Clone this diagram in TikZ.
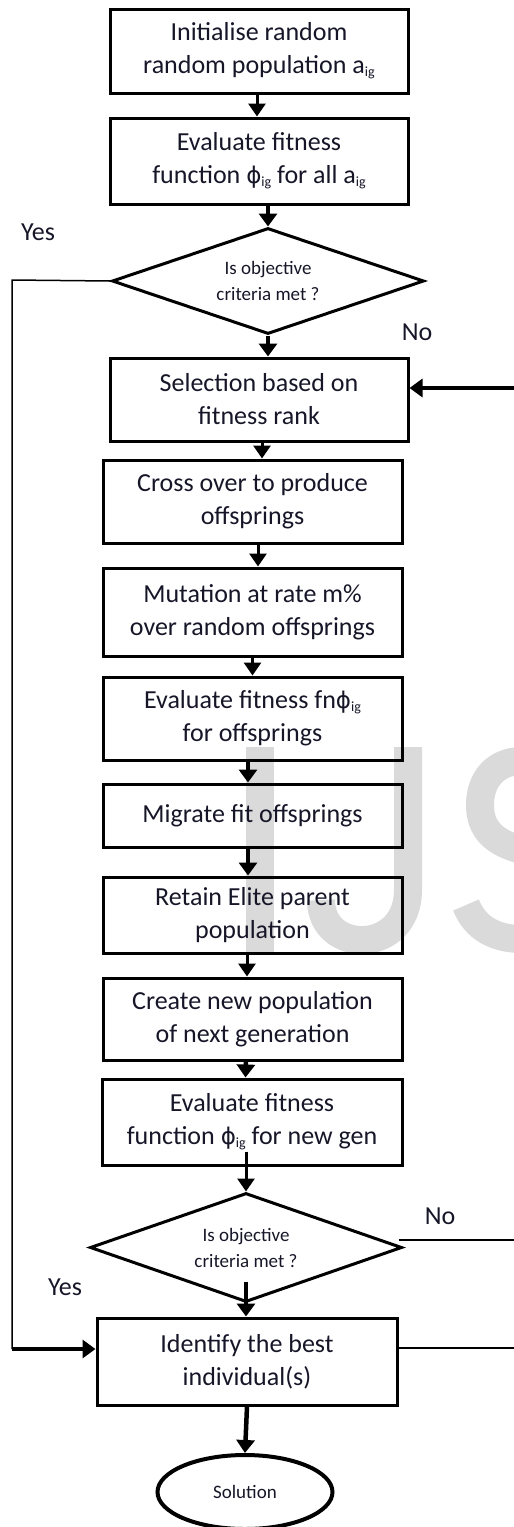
\documentclass[tikz,border=0pt]{standalone}
\usepackage{fontspec}
\setmainfont{Carlito}
\newfontfamily\phifont{DejaVu Sans}
\usetikzlibrary{shapes.geometric,arrows.meta}
\definecolor{wmgray}{RGB}{218,218,218}
\definecolor{txtcol}{RGB}{22,22,40}
\newcommand{\sbig}{\raisebox{-3pt}{\fontsize{14}{14}\selectfont ig}}
\newcommand{\phig}{{\phifont\fontsize{23}{26}\selectfont ϕ}\sbig}
\begin{document}
\begin{tikzpicture}[x=1pt,y=-1pt,
  box/.style={draw,line width=3pt,minimum width=298pt,inner sep=0pt,align=center,text=txtcol,font=\fontsize{26}{33}\selectfont},
  dec/.style={draw,diamond,line width=3pt,minimum width=312pt,minimum height=106pt,inner sep=0pt,aspect=2.94,align=center,text=txtcol,font=\fontsize{19}{26}\selectfont},
  arr/.style={line width=3pt,-{Triangle[length=13pt,width=17pt]}},
  thickarr/.style={line width=4.5pt,-{Triangle[length=13pt,width=18pt]}},
  thinline/.style={line width=1.5pt},
  lbl/.style={text=txtcol,font=\fontsize{26}{30}\selectfont},
  wm/.style={draw=wmgray,line width=28pt}
]
\useasboundingbox (0,0) rectangle (514,1527);
% watermark
\begin{scope}
\clip (0,0) rectangle (514,1527);
\fill[wmgray] (246,747) rectangle (274,953);
\draw[wm] (408,747) -- (408,890) .. controls (408,955) and (321,955) .. (321,900);
\draw[wm] (572,778) .. controls (560,760) and (540,761) .. (522,761)
  .. controls (495,761) and (480,780) .. (480,805)
  .. controls (480,830) and (495,843) .. (522,850)
  .. controls (555,858) and (574,875) .. (574,895)
  .. controls (574,922) and (552,939) .. (522,939)
  .. controls (495,939) and (475,928) .. (466,905);
\end{scope}
% nodes
\node[box,minimum height=84pt] (b1) at (259,51) {Initialise random\\random population a\sbig};
\node[box,minimum height=86pt] (b2) at (259,161) {Evaluate fitness\\function \phig{} for all a\sbig};
\node[dec] (d1) at (268,281) {Is objective\\criteria met ?};
\node[box,minimum height=83pt] (b3) at (259,399.5) {Selection based on\\fitness rank};
\node[box,minimum width=299pt,minimum height=83pt] (b4) at (252.5,501.5) {Cross over to produce\\offsprings};
\node[box,minimum width=299pt,minimum height=88pt] (b5) at (252.5,612) {Mutation at rate m\%\\over random offsprings};
\node[box,minimum width=299pt,minimum height=83pt] (b6) at (252.5,718.5) {Evaluate fitness fn\phig\\for offsprings};
\node[box,minimum width=299pt,minimum height=63pt] (b7) at (252.5,815.5) {Migrate fit offsprings};
\node[box,minimum width=299pt,minimum height=76pt] (b8) at (252.5,915) {Retain Elite parent\\population};
\node[box,minimum width=299pt,minimum height=82pt] (b9) at (252.5,1019) {Create new population\\of next generation};
\node[box,minimum width=300pt,minimum height=86pt] (b10) at (252,1122) {Evaluate fitness\\function \phig{} for new gen};
\node[dec,minimum height=109pt,aspect=2.86] (d2) at (246,1247.5) {Is objective\\criteria met ?};
\node[box,minimum width=300pt,minimum height=87pt] (b11) at (247,1361.5) {Identify the best\\individual(s)};
\node[draw,ellipse,line width=4pt,minimum width=175pt,minimum height=74pt,inner sep=0pt,text=txtcol,font=\fontsize{19}{22}\selectfont] (sol) at (245,1492) {Solution};
% labels
\node[lbl] (yes1) at (38,232) {Yes};
\node[lbl] (no1) at (417,332) {No};
\node[lbl] (no2) at (440,1216) {No};
\node[lbl] (yes2) at (65,1287) {Yes};
% arrows
\draw[arr] ([xshift=-2pt]b1.south) -- ([xshift=-2pt]b2.north);
\draw[thickarr] (b2.south -| d1.north) -- (d1.north);
\draw[thickarr] (d1.south) -- (d1.south |- b3.north);
\draw[arr] ([xshift=3pt]b3.south) -- ([xshift=3pt]b3.south |- b4.north);
\draw[arr] ([xshift=5.5pt]b4.south) -- ([xshift=5.5pt]b5.north);
\draw[arr] (b5.south) -- (b6.north);
\draw[thickarr] ([xshift=-4.5pt]b6.south) -- ([xshift=-4.5pt]b7.north);
\draw[thickarr] ([xshift=-4.5pt]b7.south) -- ([xshift=-4.5pt]b8.north);
\draw[arr] ([xshift=-5.5pt]b8.south) -- ([xshift=-5.5pt]b9.north);
\draw[thickarr] ([xshift=-6.5pt]b9.south) -- ([xshift=-6.5pt]b10.north);
\draw[arr] ([yshift=15pt]b10.south -| d2.north) -- (d2.north);
\draw[thickarr] ([yshift=22pt]d2.south) -- (d2.south |- b11.north);
\draw[thickarr] (b11.south) -- (sol.north);
% loops
\coordinate (lt) at (12,280);
\coordinate (lb) at (12,1349);
\draw[thinline] (d1.west) -- (lt) -- (lb);
\draw[thickarr] (lb) -- (lb -| b11.west);
\coordinate (rin) at (514,388);
\draw[thickarr] (rin) -- (rin -| b3.east);
\coordinate (rd) at (514,1240);
\draw[thinline] ([xshift=-5pt]rd -| d2.east) -- (rd);
\coordinate (rb) at (514,1348);
\draw[thinline] (rb -| b11.east) -- (rb);
\end{tikzpicture}
\end{document}
